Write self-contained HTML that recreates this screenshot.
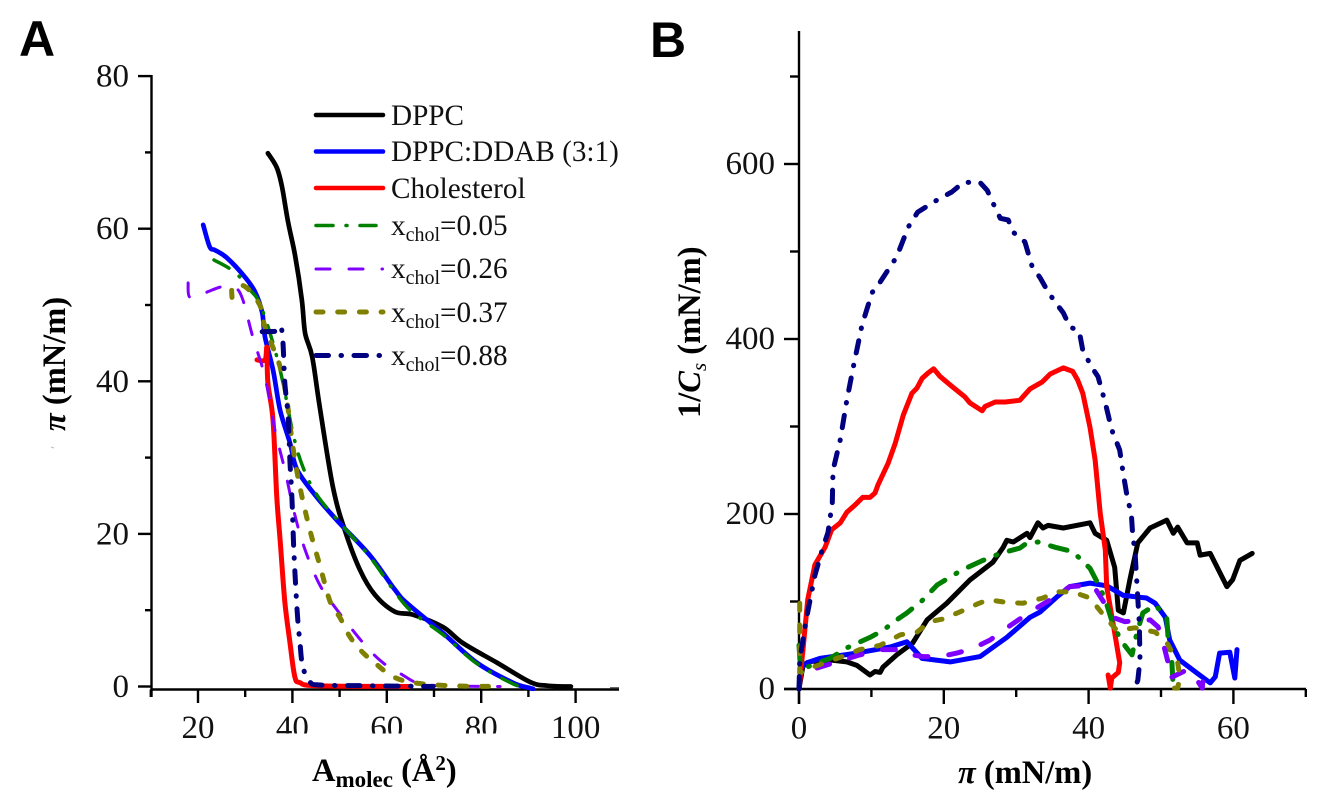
<!DOCTYPE html>
<html lang="en">
<head>
<meta charset="utf-8">
<title>Surface pressure isotherms and compressibility modulus</title>
<style>
html,body{margin:0;padding:0;background:#fff;width:1333px;height:810px;overflow:hidden}
svg{display:block}
text{font-family:"Liberation Serif","DejaVu Serif",serif;fill:#000}
.letter{font-family:"Liberation Sans",sans-serif;font-weight:700;font-size:50px}
.tick{font-size:33px;fill:#111}
.title{font-size:32.5px;font-weight:700}
.leg{font-size:29.2px;fill:#111}
.sub{font-size:20px}
</style>
</head>
<body>
<svg id="figure" width="1333" height="810" viewBox="0 0 1333 810" xmlns="http://www.w3.org/2000/svg">
  <rect width="1333" height="810" fill="#fff"/>
  <text class="letter" x="19" y="56">A</text>
  <text class="letter" x="650" y="57">B</text>
  <g id="panelA"></g>
  <g id="panelB"></g>
  <rect x="270" y="733.5" width="235" height="10" fill="#fff"/>
  <text class="title" x="312" y="781">A<tspan font-size="23" dy="6">molec</tspan><tspan dy="-6"> (Å</tspan><tspan font-size="21" dy="-11">2</tspan><tspan dy="11">)</tspan></text>
  <text class="title" transform="translate(65,431) rotate(-90)"><tspan font-style="italic">π</tspan> (mN/m)</text>
  <text class="title" x="958" y="783"><tspan font-style="italic">π</tspan> (mN/m)</text>
  <text class="title" transform="translate(700,418) rotate(-90)">1/<tspan font-style="italic">C</tspan><tspan font-style="italic" font-weight="400" font-size="21" dy="6">s</tspan><tspan dy="-6"> (mN/m)</tspan></text>
  <path d="M51 447l3 1" stroke="#bbb" stroke-width="1" fill="none"/>
  <path d="M610 688H619" stroke="#333" stroke-width="1.5" fill="none"/>

  <g>
    <g>
      <line x1="316" y1="115" x2="383" y2="115" stroke="#000" stroke-width="4.6" stroke-linecap="round"/>
      <text class="leg" x="391" y="125">DPPC</text>
    </g>
    <g>
      <line x1="316" y1="151.5" x2="383" y2="151.5" stroke="#0000ff" stroke-width="4.6" stroke-linecap="round"/>
      <text class="leg" x="391" y="161">DPPC:DDAB (3:1)</text>
    </g>
    <g>
      <line x1="316" y1="188" x2="383" y2="188" stroke="#ff0000" stroke-width="4.6" stroke-linecap="round"/>
      <text class="leg" x="391" y="198">Cholesterol</text>
    </g>
    <g>
      <line x1="316" y1="225.5" x2="376" y2="225.5" stroke="#008000" stroke-width="3.5" stroke-linecap="round" stroke-dasharray="17 13 1 13"/>
      <text class="leg" x="391" y="235">x<tspan class="sub" dy="6">chol</tspan><tspan dy="-6">=0.05</tspan></text>
    </g>
    <g>
      <line x1="316" y1="269" x2="383" y2="269" stroke="#8000ff" stroke-width="3" stroke-linecap="round" stroke-dasharray="14 19 14 19 0.5 19"/>
      <text class="leg" x="391" y="278">x<tspan class="sub" dy="6">chol</tspan><tspan dy="-6">=0.26</tspan></text>
    </g>
    <g>
      <line x1="316" y1="312" x2="383" y2="312" stroke="#808000" stroke-width="5" stroke-linecap="round" stroke-dasharray="7 14.7"/>
      <text class="leg" x="391" y="322">x<tspan class="sub" dy="6">chol</tspan><tspan dy="-6">=0.37</tspan></text>
    </g>
    <g>
      <line x1="316" y1="355.5" x2="380" y2="355.5" stroke="#000080" stroke-width="5" stroke-linecap="round" stroke-dasharray="12.5 12.5 0.5 12.5"/>
      <text class="leg" x="391" y="365">x<tspan class="sub" dy="6">chol</tspan><tspan dy="-6">=0.88</tspan></text>
    </g>
  </g>
</svg>
<script>
/* Panel A: [area per molecule, surface pressure] */
const isothermDppc = [[34.8,69.9],[36.7,68],[37.8,65.5],[39.1,60.8],[40.6,56.4],[42,50.7],[42.7,46.3],[44.2,43.2],[45.8,36.6],[48.6,26.1],[51.1,20.5],[54.3,15.3],[57.5,12],[61.7,9.8],[65.6,9.4],[71.9,7.8],[76.1,5.7],[83.4,3.1],[90.3,0.6],[94,0.1],[99,0]];
const isothermBlend = [[21.1,60.5],[22.5,57.6],[23.6,57.2],[26.1,56.2],[29.9,53.7],[32.1,51.7],[33.6,49],[34.2,45.8],[35.9,41.5],[37.4,36.2],[39.5,31.9],[41,28.4],[45.2,24.8],[50,21.4],[56.4,17.2],[61.7,12.7],[64.3,10.9],[71.9,7],[79.1,3.1],[86.7,0.5],[90.3,-0.2],[91,-0.3]];
const isothermCholesterol = [[32.5,42.8],[34.2,42.8],[34.6,44.4],[34.8,39.8],[35.9,34.9],[36.7,24.8],[37.4,19.2],[38.4,11.1],[39.5,5.7],[40.5,1.3],[41.6,0.5],[45.2,0.1],[64.9,0]];
const isothermChol005 = [[23.4,55.9],[27.8,54.3],[31,52],[33.1,50.2],[35.9,45],[38,39.8],[40.1,33.2],[42.2,28.8],[45.2,25.1],[50,21.5],[56.4,17],[61.7,12.4],[65.3,9.8],[71.9,6.8],[79.1,3],[86.7,0.35],[89.7,-0.1]];
const isothermChol026 = [[17.9,52.9],[18.3,51],[21.5,51.6],[25.1,52.4],[28,52.2],[29.5,50.7],[31.6,45.8],[33.8,41.5],[35.3,37.2],[36.3,33.6],[38.4,28.4],[40.5,22.5],[42.7,17.9],[45.8,13.3],[49.5,10],[55,5.7],[59.2,3.1],[63.4,1.5],[66.4,0.5],[71.3,0.1],[84,0]];
const isothermChol037 = [[27.2,51],[27.4,52.4],[30,52.4],[33.1,50],[34.2,47.1],[37.4,41.9],[38.9,37.2],[40.1,31.4],[41.6,26.1],[43.7,20.5],[45.8,15.9],[48,11.1],[50.1,9],[52.2,6.5],[55,4.4],[58,2.8],[61.3,1.3],[65.6,0.5],[73.4,0.1],[83.4,0]];
const isothermChol088 = [[33.6,46.5],[37,46.6],[37.6,47.1],[38,45],[38.4,39.8],[39.1,35.3],[39.5,29.3],[39.9,24.8],[40.3,17.9],[41,10],[41.6,5.7],[42.2,2.6],[43.7,0.6],[45.8,0.2],[55,0.1],[69.8,0]];

/* Panel B: [surface pressure, inverse compressibility] */
const modulusDppc = [[0,0],[0.55,27],[1.1,30],[2,32],[3,29],[4.5,33],[6.6,31],[8,27],[9.8,16],[10.5,20],[11.2,19],[11.6,25],[13.5,39],[15.7,52.6],[17.7,79],[20.4,98],[23.6,124.6],[26.8,145],[28.2,162],[28.7,170],[29.6,168],[31.5,178],[31.9,173],[33,190],[33.7,184],[34.4,187],[36.5,184],[40.2,190],[40.9,178],[42.5,170],[43.6,139],[44.1,90],[44.8,87],[45.7,125],[46.8,167],[48.5,184],[50.8,193],[51.7,178],[52.3,185],[53.6,167],[55,167],[55.4,153],[56.8,155],[59.1,117],[59.9,125],[60.9,147],[62.6,155]];
const modulusBlend = [[0,0],[0.3,24],[1.1,30],[2.9,35],[8,41],[12.6,48],[14.9,54],[17,35],[20.9,31],[25,37],[28.7,59],[31.9,82],[33.3,88],[35.6,105],[37.4,117],[40.2,121],[42.5,118],[44.8,107],[48,104],[49.2,98],[50.6,82],[51.2,56],[52.6,33],[55,18],[56.8,7],[57.5,14],[58.1,41],[59.5,42],[60.2,12.6],[60.5,45]];
const modulusCholesterol = [[0,0],[0.55,45],[1.2,102],[2.2,142],[3.6,162],[4.5,182],[5.7,190],[6.6,202],[7.7,210],[8.8,219],[9.8,219],[10.5,224],[10.9,233],[12.3,258],[13.3,281],[14.4,313],[15.6,338],[16.3,344],[17,355],[17.8,361],[18.6,366],[19.5,357],[21.1,346],[22.9,334],[23.6,327],[25.3,318],[25.7,323],[27.1,328],[28.5,328],[30.5,330],[31.9,343],[33.6,351],[34.7,360],[36.5,367],[37.8,363],[38.5,353],[39.2,338],[40.2,299],[40.9,262],[41.6,201],[42.3,159],[42.5,117],[43.6,64],[44.3,30],[44.1,19],[43.2,12.6],[43,1],[42.7,16]];
const modulusChol005 = [[0,50],[0.2,25],[1.1,25],[4.3,35],[6.6,47],[9.8,59],[11.6,67],[13.5,79],[14.9,87],[17,101],[19.1,119],[20.9,128],[22.5,136],[25.4,147],[27.8,155],[30.5,161],[31.5,167],[33,168],[35.4,162],[37.8,157],[40.2,138],[41.2,122],[42.3,102],[43.4,73],[44.6,54],[46,39],[46.7,65],[47.5,87],[49.2,96],[50.8,81],[51,56],[51.5,30],[51.7,1]];
const modulusChol026 = [[2.5,24],[5.2,31],[8.4,39],[11.2,45],[14.4,45],[15.7,39],[17.1,37],[19.5,37],[21.8,41],[23.9,46],[26.4,56],[28.9,71],[31.9,88],[34.7,102],[37.4,117],[40.6,119],[42.5,94],[43.6,81],[45,77],[48.5,79],[49.6,71],[50.1,59],[51,30],[51.1,12],[53.6,22],[55,10],[55.7,1],[55.9,22]];
const modulusChol037 = [[0.1,98],[0.1,64],[0.1,18],[1.9,25],[6.6,39],[8.4,45],[11.2,50],[14,62],[16.3,65],[18.1,77],[19.9,80],[22.2,88],[24.6,97],[26.1,102],[28.7,99],[30.9,98],[33.7,104],[35.5,111],[37.8,111],[40.2,104],[42,85],[43.9,67],[46.4,70],[49.2,65],[50.8,53],[52.3,30],[52.6,14],[52.3,1],[51.5,1]];
const modulusChol088 = [[0,0],[0.1,33],[1,79],[2.2,130],[3.2,159],[4,179],[4.6,213],[4.7,250],[5.7,285],[6.6,330],[7.5,368],[8.7,416],[10.1,453],[11.2,465],[13.5,494],[15.1,528],[16.4,545],[19.1,559],[21.1,568],[22.7,579],[25,579],[26,570],[26.7,557],[27.8,538],[28.9,536],[29.6,522],[31.2,511],[32.2,483],[33.3,470],[34.4,454],[35.4,442],[36.5,430],[37.4,414],[38.7,409],[39.2,387],[40.5,367],[41.3,357],[42.3,327],[43.2,296],[44.3,273],[44.8,245],[45.4,216],[45.9,201],[46.1,174],[46.4,159],[46.7,117],[47,75],[47.1,33],[46.8,10],[46.4,1]];

/* Axis ticks */
const panelAXTicks = [20,40,60,80,100];
const panelAXMinor = [10,30,50,70,90];
const panelAYTicks = [0,20,40,60,80];
const panelAYMinor = [10,30,50,70];
const panelBXTicks = [0,20,40,60];
const panelBXMinor = [10,30,50,70];
const panelBYTicks = [0,200,400,600];
const panelBYMinor = [100,300,500,700];

const SVGNS = 'http://www.w3.org/2000/svg';
const xA = v => 198 + (v - 20) * 4.72;
const yA = v => 686.5 - v * 7.63;
const xB = v => 799 + v * 7.24;
const yB = v => 689 - v * 0.875;

function mk(parent, tag, attrs, text) {
  const el = document.createElementNS(SVGNS, tag);
  for (const k in attrs) el.setAttribute(k, attrs[k]);
  if (text !== undefined) el.textContent = text;
  parent.appendChild(el);
  return el;
}
function axisLine(parent, x1, y1, x2, y2, w, name) {
  const el = mk(parent, 'line', {x1, y1, x2, y2, stroke: '#000', 'stroke-width': w});
  
  
  return el;
}
function tickLabel(parent, x, y, anchor, str, name) {
  const el = mk(parent, 'text', {x, y, 'text-anchor': anchor, class: 'tick'}, str);
  
  
  return el;
}
function smoothPath(p) {
  let d = 'M' + p[0][0].toFixed(1) + ' ' + p[0][1].toFixed(1);
  for (let i = 0; i < p.length - 1; i++) {
    const a = p[Math.max(i - 1, 0)], b = p[i], c = p[i + 1], e = p[Math.min(i + 2, p.length - 1)];
    const c1x = b[0] + (c[0] - a[0]) / 6, c1y = b[1] + (c[1] - a[1]) / 6;
    const c2x = c[0] - (e[0] - b[0]) / 6, c2y = c[1] - (e[1] - b[1]) / 6;
    d += 'C' + c1x.toFixed(1) + ' ' + c1y.toFixed(1) + ' ' + c2x.toFixed(1) + ' ' + c2y.toFixed(1) + ' ' + c[0].toFixed(1) + ' ' + c[1].toFixed(1);
  }
  return d;
}
function straightPath(p) {
  return p.map((q, i) => (i ? 'L' : 'M') + q[0].toFixed(1) + ' ' + q[1].toFixed(1)).join('');
}
function drawSeries(parent, values, fx, fy, color, width, dash, name, smooth) {
  const pts = values.map(v => [fx(v[0]), fy(v[1])]);
  const el = mk(parent, 'path', {d: smooth ? smoothPath(pts) : straightPath(pts), fill: 'none', stroke: color, 'stroke-width': width, 'stroke-linecap': 'round', 'stroke-linejoin': 'round'});
  if (dash) el.setAttribute('stroke-dasharray', dash);
  
  
  return el;
}

const gA = document.getElementById('panelA');
const gB = document.getElementById('panelB');

/* Panel A axes */
axisLine(gA, 151.5, 75, 151.5, 697, 2.4, 'panel-a-y-axis');
axisLine(gA, 151.5, 689.5, 619, 689.5, 2.4, 'panel-a-x-axis');
panelAXTicks.forEach(v => {
  axisLine(gA, xA(v), 689.5, xA(v), 703, 2.4, 'panel-a-x-tick');
  tickLabel(gA, xA(v), 738, 'middle', String(v), 'panel-a-x-tick-label');
});
panelAXMinor.forEach(v => {
  axisLine(gA, xA(v), 689.5, xA(v), 697, 2.4, 'panel-a-x-minor-tick');
});
panelAYTicks.forEach(v => {
  axisLine(gA, 138, yA(v), 151.5, yA(v), 2.4, 'panel-a-y-tick');
  tickLabel(gA, 129, yA(v) + 10.5, 'end', String(v), 'panel-a-y-tick-label');
});
panelAYMinor.forEach(v => {
  axisLine(gA, 145, yA(v), 151.5, yA(v), 2.4, 'panel-a-y-minor-tick');
});

/* Panel B axes */
axisLine(gB, 799, 31, 799, 704, 2.4, 'panel-b-y-axis');
axisLine(gB, 784, 689, 1306, 689, 2.4, 'panel-b-x-axis');
panelBXTicks.forEach(v => {
  axisLine(gB, xB(v), 689, xB(v), 704, 2.4, 'panel-b-x-tick');
  tickLabel(gB, xB(v), 738.5, 'middle', String(v), 'panel-b-x-tick-label');
});
panelBXMinor.forEach(v => {
  axisLine(gB, xB(v), 689, xB(v), 697, 2.4, 'panel-b-x-minor-tick');
});
panelBYTicks.forEach(v => {
  axisLine(gB, 784, yB(v), 799, yB(v), 2.4, 'panel-b-y-tick');
  tickLabel(gB, 775, yB(v) + 10, 'end', String(v), 'panel-b-y-tick-label');
});
panelBYMinor.forEach(v => {
  axisLine(gB, 790, yB(v), 799, yB(v), 2.4, 'panel-b-y-minor-tick');
});

/* Panel A curves */
drawSeries(gA, isothermDppc, xA, yA, '#000', 4.7, null, 'panel-a-line-dppc', true);
drawSeries(gA, isothermBlend, xA, yA, '#0000ff', 4.7, null, 'panel-a-line-dppc-ddab', true);
drawSeries(gA, isothermCholesterol, xA, yA, '#ff0000', 5, null, 'panel-a-line-cholesterol', true);
drawSeries(gA, isothermChol005, xA, yA, '#008000', 3.5, '17 13 1 13', 'panel-a-line-xchol-005', true);
drawSeries(gA, isothermChol026, xA, yA, '#8000ff', 3, '14 19', 'panel-a-line-xchol-026', true);
drawSeries(gA, isothermChol037, xA, yA, '#808000', 5, '7 14.7', 'panel-a-line-xchol-037', true);
drawSeries(gA, isothermChol088, xA, yA, '#000080', 5, '12.5 12.5 0.5 12.5', 'panel-a-line-xchol-088', true);

/* Panel B curves */
drawSeries(gB, modulusDppc, xB, yB, '#000', 5, null, 'panel-b-line-dppc', false);
drawSeries(gB, modulusBlend, xB, yB, '#0000ff', 5, null, 'panel-b-line-dppc-ddab', false);
drawSeries(gB, modulusCholesterol, xB, yB, '#ff0000', 5, null, 'panel-b-line-cholesterol', false);
drawSeries(gB, modulusChol005, xB, yB, '#008000', 5, '17 13 1 13', 'panel-b-line-xchol-005', false);
drawSeries(gB, modulusChol026, xB, yB, '#8000ff', 5, '13 21', 'panel-b-line-xchol-026', false);
drawSeries(gB, modulusChol037, xB, yB, '#808000', 5, '7 14.7', 'panel-b-line-xchol-037', false);
drawSeries(gB, modulusChol088, xB, yB, '#000080', 5, '12.5 12.5 0.5 12.5', 'panel-b-line-xchol-088', false);
</script>
</body>
</html>
